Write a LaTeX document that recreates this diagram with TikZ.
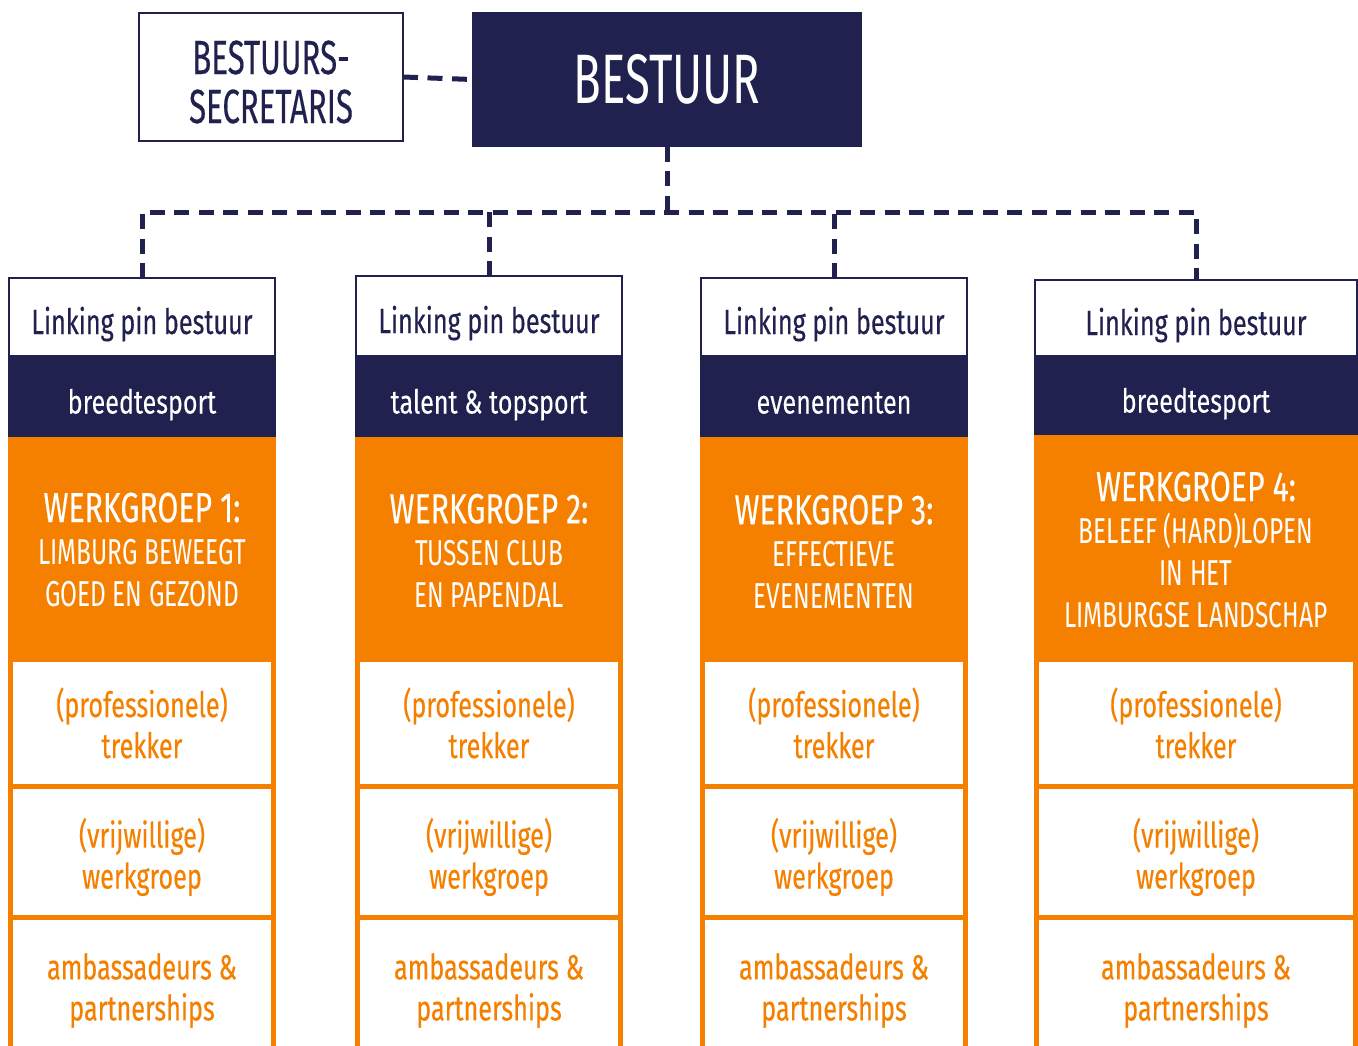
\documentclass[tikz,border=0pt]{standalone}
\usepackage{fontspec}
\setmainfont{Fira Sans}[FakeStretch=0.72]
\newfontfamily\fmed{Fira Sans}[FakeStretch=0.72, FakeBold=0.3]
\newfontfamily\fband{Fira Sans}[FakeStretch=0.76, FakeBold=0.15]
\newfontfamily\fnarrow{Fira Sans}[FakeStretch=0.65]
\newfontfamily\fnarrowmed{Fira Sans}[FakeStretch=0.65, FakeBold=0.3]
\newfontfamily\fsub{Fira Sans}[FakeStretch=0.68]
\definecolor{navy}{HTML}{20214F}
\definecolor{orng}{HTML}{F58000}
\tikzset{
  base/.style={inner sep=0pt, outer sep=0pt, align=center},
  secbox/.style={base, draw=navy, line width=2pt, fill=white},
  sectext/.style={base, text=navy, font=\fnarrowmed\fontsize{48}{49}\selectfont},
  topbox/.style={base, fill=navy, text=white, text height=48pt, text depth=0pt,
    font=\fnarrow\fontsize{70}{70}\selectfont},
  lpbox/.style={base, draw=navy, line width=2pt, fill=white, text=navy,
    text height=34pt, text depth=0pt, font=\fmed\fontsize{35}{40}\selectfont},
  bandbox/.style={base, fill=navy, text=white, text height=34pt, text depth=0pt,
    font=\fband\fontsize{33}{38}\selectfont},
  wgbox/.style={base, fill=orng},
  wgtext/.style={base, text=white, font=\fsub\fontsize{36}{42}\selectfont},
  rowbox/.style={base, draw=orng, line width=5pt, fill=white},
  rowtext/.style={base, text=orng, font=\fmed\fontsize{35}{41}\selectfont},
  dashline/.style={draw=navy, line width=5pt, dash pattern=on 15pt off 9.5pt}
}
\newcommand\wghead[1]{{\fmed\fontsize{42}{42}\selectfont #1}}
\begin{document}
\begin{tikzpicture}[x=1pt,y=-1pt]
\useasboundingbox (0,0) rectangle (1358,1046);
% top
\node[secbox, minimum width=264pt, minimum height=128pt] (sec) at (271,77) {};
\node[sectext] (sect) at ([yshift=-5pt]sec.center) {BESTUURS-\\SECRETARIS};
\node[topbox, minimum width=390pt, minimum height=135pt] (bestuur) at (667,79.5) {BESTUUR};
% columns: index / left / width / lp top / band bottom / wg text shift / band text / wg text
\foreach \i/\L/\W/\T/\NB/\ws/\band/\wg in {
  1/8/268/277/437/2/{breedtesport}/{\wghead{WERKGROEP 1:}\\LIMBURG BEWEEGT\\GOED EN GEZOND},
  2/355/268/275/437/3/{talent \& topsport}/{\wghead{WERKGROEP 2:}\\TUSSEN CLUB\\EN PAPENDAL},
  3/700/268/277/437/4/{evenementen}/{\wghead{WERKGROEP 3:}\\EFFECTIEVE\\EVENEMENTEN},
  4/1034/324/279/435/3/{breedtesport}/{\wghead{WERKGROEP 4:}\\BELEEF (HARD)LOPEN\\IN HET\\LIMBURGSE LANDSCHAP}} {
  \pgfmathsetmacro{\cx}{\L+\W/2}
  \pgfmathsetmacro{\lpc}{(\T+357)/2}
  \pgfmathsetmacro{\lph}{357-\T-2}
  \pgfmathsetmacro{\bc}{(356+\NB)/2}
  \pgfmathsetmacro{\bh}{\NB-356}
  \pgfmathsetmacro{\wc}{(\NB+658)/2}
  \pgfmathsetmacro{\wh}{658-\NB}
  \node[bandbox, minimum width=\W pt, minimum height=\bh pt] (band\i) at (\cx,\bc) {\band};
  \node[lpbox, minimum width=\W pt-2pt, minimum height=\lph pt] (lp\i) at (\cx,\lpc) {Linking pin bestuur};
  \node[wgbox, minimum width=\W pt, minimum height=\wh pt] (wg\i) at (\cx,\wc) {};
  \node[wgtext] (wgt\i) at ([yshift=-\ws pt]wg\i.center) {\wg};
  \node[rowbox, minimum width=\W pt-5pt, minimum height=127pt] (tr\i) at (\cx,723) {};
  \node[rowtext] (trt\i) at (tr\i.center) {(professionele)\\trekker};
  \node[rowbox, minimum width=\W pt-5pt, minimum height=131pt] (vw\i) at (\cx,852) {};
  \node[rowtext] (vwt\i) at ([yshift=-5pt]vw\i.center) {(vrijwillige)\\werkgroep};
  \node[rowbox, minimum width=\W pt-5pt, minimum height=152pt] (am\i) at (\cx,993.5) {};
  \node[rowtext] (amt\i) at ([yshift=3pt]am\i.center) {ambassadeurs \&\\partnerships};
}
% connectors
\draw[dashline] (sec.east) -- (bestuur.west);
\coordinate (bus) at (667,212);
\draw[dashline] (bestuur.south) -- (bus);
\draw[dashline] (lp1.north) |- (bus -| lp4.north) -- (lp4.north);
\draw[dashline] (lp2.north) -- (lp2.north |- bus);
\draw[dashline] (lp3.north) -- (lp3.north |- bus);
\end{tikzpicture}
\end{document}
